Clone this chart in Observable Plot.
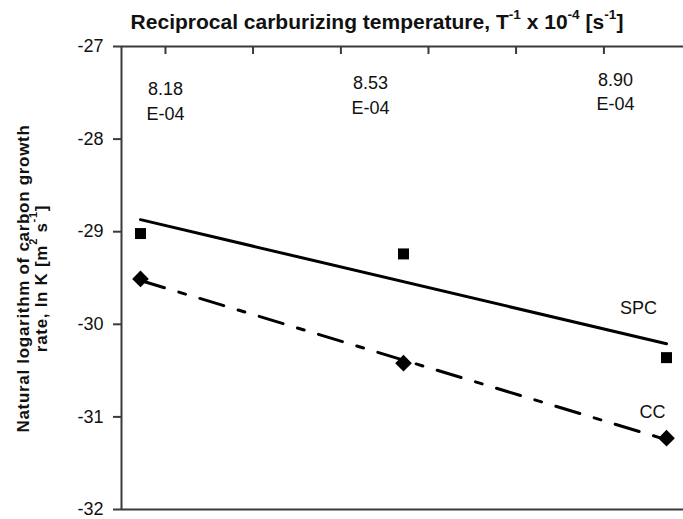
<!DOCTYPE html>
<html>
<head>
<meta charset="utf-8">
<script src="https://cdn.jsdelivr.net/npm/d3@7"></script>
<script src="https://cdn.jsdelivr.net/npm/@observablehq/plot@0.6"></script>
<style>
  html, body { margin: 0; padding: 0; background: #fff; }
  #wrap { position: relative; width: 683px; height: 519px; overflow: hidden; font-family: "Liberation Sans", Arial, Helvetica, sans-serif; }
  #title { position: absolute; left: 77px; top: 10px; width: 600px; text-align: center; font-size: 21px; font-weight: bold; line-height: 24px; color: #111; white-space: nowrap; }
  #ylabel { position: absolute; left: -127px; top: 260px; width: 320px; height: 37px; text-align: center; font-size: 17px; font-weight: bold; letter-spacing: 0.7px; line-height: 18.4px; color: #111; transform: rotate(-90deg); transform-origin: 50% 50%; white-space: nowrap; }
  sup { font-size: 0.65em; vertical-align: baseline; position: relative; top: -0.75em; line-height: 0; }
  #ylabel sup { top: -0.9em; }
  #chart { position: absolute; left: 0; top: 0; }
</style>
</head>
<body>
<div id="wrap">
  <div id="chart"></div>
  <div id="title">Reciprocal carburizing temperature, T<sup>-1</sup> x 10<sup>-4</sup> [s<sup>-1</sup>]</div>
  <div id="ylabel">Natural logarithm of carbon growth<br>rate, ln K [m<sup>2</sup> s<sup>-1</sup>]</div>
</div>
<script>
// ---- data ----
const categories = ["8.18E-04", "8.53E-04", "8.90E-04"];
const categoryLabels = ["8.18\nE-04", "8.53\nE-04", "8.90\nE-04"];
const spcValues = [-29.02, -29.24, -30.36];
const ccValues = [-29.51, -30.42, -31.23];
const yTicks = [-27, -28, -29, -30, -31, -32];
const topTicks = [0.095, 0.428, 0.762, 1.095, 1.428, 1.762];

// ---- layout / style ----
const axisColor = "#3a3a3a";
const xDomain = [-0.0722, 2.0646];
const yDomain = [-32, -27];
const labelNudge = [[25, 53], [-33, 47], [-51, 43.6]];

const spc = categories.map((c, i) => ({i, c, v: spcValues[i]}));
const cc = categories.map((c, i) => ({i, c, v: ccValues[i]}));
const cats = categories.map((c, i) => ({i, c, label: categoryLabels[i]}));

const marks = [
  Plot.ruleY([yDomain[1], yDomain[0]], {stroke: axisColor, strokeWidth: 2}),
  Plot.ruleX([xDomain[0]], {stroke: axisColor, strokeWidth: 2}),
  Plot.axisY({ticks: yTicks, tickSize: 8, tickPadding: 10, tickFormat: d => `${d}`, fontSize: 18, stroke: axisColor, strokeWidth: 2, fill: "#111", label: null}),
  Plot.ruleX(topTicks, {y1: yDomain[1], y2: yDomain[1] - 8 / 92.6, stroke: axisColor, strokeWidth: 2}),
  Plot.linearRegressionY(spc, {x: "i", y: "v", ci: 0, stroke: "#000", strokeWidth: 3}),
  Plot.linearRegressionY(cc, {x: "i", y: "v", ci: 0, stroke: "#000", strokeWidth: 3, strokeDasharray: "25,15,7,15"}),
  Plot.dot(spc, {x: "i", y: "v", symbol: "square", r: 6.2, fill: "#000", stroke: null}),
  Plot.dot(cc, {x: "i", y: "v", symbol: "diamond2", r: 7.5, fill: "#000", stroke: null}),
  Plot.text([spc[2]], {x: "i", y: "v", text: () => "SPC", dx: -28, dy: -49, fontSize: 18, fill: "#111"}),
  Plot.text([cc[2]], {x: "i", y: "v", text: () => "CC", dx: -14, dy: -26, fontSize: 18, fill: "#111"})
];
cats.forEach((d, k) => {
  marks.push(Plot.text([d], {x: "i", y: () => yDomain[1], text: "label", dx: labelNudge[k][0], dy: labelNudge[k][1], lineHeight: 1.36, lineAnchor: "middle", fontSize: 18, fill: "#111"}));
});

const chart = Plot.plot({
  width: 683,
  height: 519,
  marginLeft: 121,
  marginRight: 0,
  marginTop: 46,
  marginBottom: 10,
  x: {domain: xDomain, axis: null},
  y: {domain: yDomain, axis: null},
  style: {fontFamily: "'Liberation Sans', Arial, Helvetica, sans-serif", background: "transparent", overflow: "visible"},
  marks
});
document.getElementById("chart").appendChild(chart);
</script>
</body>
</html>
